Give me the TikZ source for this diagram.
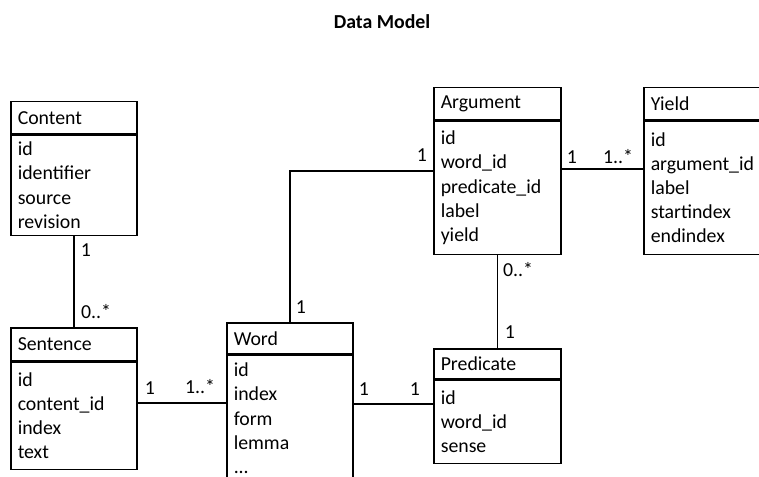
\documentclass[tikz,border=0pt]{standalone}
\usepackage{fontspec}
\setmainfont{Carlito}
\begin{document}
\begin{tikzpicture}[x=1pt,y=-1pt,
  every node/.style={font=\fontsize{19.8}{24.2}\selectfont},
  hdr/.style={draw, line width=1.5pt, anchor=north west, inner xsep=7pt, inner ysep=0pt, align=left},
  bodybox/.style={draw, line width=1.5pt, anchor=north west, inner xsep=7pt, inner ysep=0pt, align=left},
  conn/.style={line width=1.5pt},
  mult/.style={inner sep=0pt}
]
\path[use as bounding box, clip] (0,0) rectangle (759,476);
\fill[white] (0,0) rectangle (759,476);

\node[font=\fontsize{19.8}{24}\selectfont\bfseries] (title) at (382,22) {Data Model};

% Content
\node[hdr, text width=112pt, minimum height=32pt] (content) at (10,101) {Content};
\node[bodybox, text width=112pt, minimum height=100pt] (contentb) at (content.south west) {id\\identifier\\source\\revision};

% Sentence
\node[hdr, text width=112pt, minimum height=33pt] (sentence) at (10,327) {Sentence};
\node[bodybox, text width=112pt, minimum height=107pt] (sentb) at (sentence.south west) {id\\content\_id\\index\\text};

% Word
\node[hdr, text width=112pt, minimum height=31pt] (word) at (226,322) {Word};
\node[bodybox, text width=112pt, minimum height=126pt] (wordb) at (word.south west) {id\\index\\form\\lemma\\...};

% Argument
\node[hdr, text width=113pt, minimum height=32pt] (argument) at (433,87) {Argument};
\node[bodybox, text width=113pt, minimum height=133pt] (argb) at (argument.south west) {id\\word\_id\\predicate\_id\\label\\yield};

% Yield
\node[hdr, text width=130pt, minimum height=32pt] (yield) at (643,87) {Yield};
\node[bodybox, text width=130pt, minimum height=133pt] (yieldb) at (yield.south west) {id\\argument\_id\\label\\startindex\\endindex};

% Predicate
\node[hdr, text width=113pt, minimum height=30pt] (predicate) at (433,348) {Predicate};
\node[bodybox, text width=113pt, minimum height=83pt] (predb) at (predicate.south west) {id\\word\_id\\sense};

% connectors
\draw[conn] (contentb.south) -- (sentence.north);
\draw[conn] (sentb.east |- 0,403) -- (wordb.west |- 0,403);
\draw[conn] (wordb.east |- 0,404) -- (predb.west |- 0,404);
\draw[conn] (word.north) |- (argb.west |- 0,171);
\draw[conn] (argb.east |- 0,169) -- (yieldb.west |- 0,169);
\draw[conn] (argb.south) -- (predicate.north);

% multiplicities
\node[mult] (m1) at (86,250) {1};
\node[mult] (m2) at (96,312) {0..*};
\node[mult] (m3) at (150,388) {1};
\node[mult] (m4) at (200,387) {1..*};
\node[mult] (m5) at (364,389) {1};
\node[mult] (m6) at (415,389) {1};
\node[mult] (m7) at (422,155) {1};
\node[mult] (m8) at (301,307) {1};
\node[mult] (m9) at (572,157) {1};
\node[mult] (m10) at (618,157) {1..*};
\node[mult] (m11) at (518,270) {0..*};
\node[mult] (m12) at (510,332) {1};
\end{tikzpicture}
\end{document}
